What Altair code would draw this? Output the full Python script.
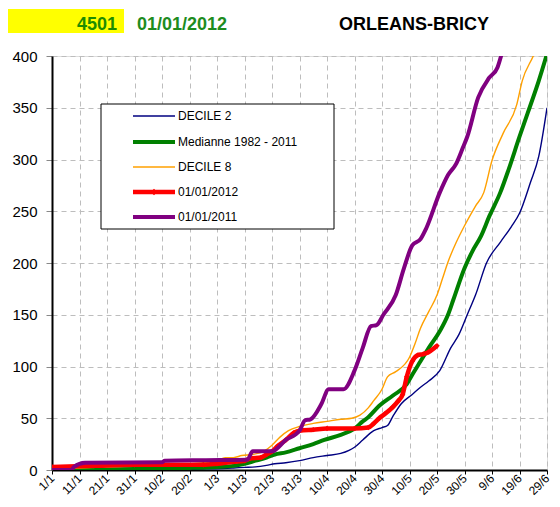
import altair as alt
import pandas as pd

# ---- data (day index from 1 January 2012, cumulative values) ----
tick_days = [0, 10, 20, 30, 40, 50, 60, 70, 80, 90, 100, 110, 120, 130, 140, 150, 160, 170, 180]
tick_labels = ["1/1", "11/1", "21/1", "31/1", "10/2", "20/2", "1/3", "11/3", "21/3", "31/3",
               "10/4", "20/4", "30/4", "10/5", "20/5", "30/5", "9/6", "19/6", "29/6"]

d2_days = [0, 20, 40, 55, 62, 66, 70, 74, 78, 81, 85, 90, 95, 100, 105, 108, 110, 113, 117, 120,
           122, 124, 127, 131, 134, 137, 141, 145, 148, 151, 154, 158, 163, 167, 170, 174, 177, 180]
d2_vals = [0, 0, 0.5, 1, 1.5, 2, 2.5, 3, 4.5, 6, 7, 9, 12, 14, 16, 19, 22, 29, 38, 41,
           43, 52, 64, 73, 80, 86, 96, 118, 131, 150, 169, 200, 220, 235, 248, 278, 303, 350]

med_days = [0, 30, 50, 60, 66, 70, 74, 78, 81, 85, 90, 95, 99, 105, 110, 113, 115, 119, 124, 129,
            131, 134, 137, 141, 144, 146, 150, 153, 156, 159, 163, 166, 170, 173, 177, 180]
med_vals = [0, 1, 2, 3, 4, 6, 9, 12, 15, 17, 21, 25, 29, 34, 40, 47, 51, 62, 72, 83,
            92, 105, 118, 134, 150, 165, 195, 212, 226, 245, 268, 290, 322, 345, 376, 402]

d8_days = [0, 20, 40, 55, 60, 63, 66, 69, 73, 77, 80, 83, 86, 90, 95, 100, 105, 109, 112, 115,
           117, 120, 122, 125, 130, 132, 134, 137, 140, 142, 144, 147, 150, 154, 157, 160, 164,
           169, 171, 175, 178]
d8_vals = [1, 3, 5, 7, 9, 12, 12, 14, 15, 18, 24, 32, 38, 42, 45, 47, 49, 50, 53, 60,
           67, 78, 90, 95, 109, 122, 137, 153, 169, 185, 201, 220, 236, 255, 268, 299, 325,
           353, 376, 400, 420]

y2012_days = [0, 15, 30, 55, 60, 66, 70, 72, 76, 78, 80, 82, 85, 88, 90, 95, 100, 110, 115, 117,
              119, 121, 124, 126, 127.5, 129, 131, 133, 135, 137, 140]
y2012_vals = [3, 4, 5, 5, 6, 8, 9, 11, 12, 15, 18, 23, 29, 36, 38, 39, 40, 40, 41, 45,
              50, 54, 61, 67, 73, 90, 105, 111, 112, 114, 120]

y2011_days = [0, 7, 8, 12, 40, 41, 56, 71, 73, 80, 85, 90, 92, 94, 98, 100.6, 106, 110, 113, 116,
              118, 120.5, 125, 128, 131, 134, 136, 141, 144, 147, 149.5, 151, 155, 159, 162, 163.5, 166]
y2011_vals = [0, 0, 3, 7, 7.5, 9, 9.5, 10, 18, 18, 29, 38, 48, 49, 64, 78, 78, 96, 118, 139,
              140, 150, 169, 195, 217, 223, 233, 268, 285, 296, 312, 322, 360, 379, 389, 402, 430]

series_names = ["DECILE 2", "Medianne 1982 - 2011", "DECILE 8", "01/01/2012", "01/01/2011"]
series_colors = ["#000080", "#008000", "#FFA000", "#FF0000", "#800080"]
series_widths = [1.4, 4, 1.4, 4.5, 4]
series_data = [(d2_days, d2_vals), (med_days, med_vals), (d8_days, d8_vals),
               (y2012_days, y2012_vals), (y2011_days, y2011_vals)]

FONT = "Liberation Sans"
W, H = 495, 414

label_expr = "[" + ",".join("'" + s + "'" for s in tick_labels) + "][round(datum.value/10)]"

x_axis = alt.Axis(values=tick_days, labelExpr=label_expr, title=None,
                  labelAngle=-45, labelAlign="right", labelBaseline="middle",
                  labelFontSize=12, labelFont=FONT, labelColor="black",
                  labelOverlap=False, labelBound=False, labelFlush=False,
                  labelPadding=2, tickSize=4, tickColor="black",
                  domainColor="black", domainWidth=2,
                  grid=True, gridDash=[5, 4], gridColor="#bdbdbd", gridWidth=1)
y_axis = alt.Axis(values=list(range(0, 401, 50)), title=None,
                  labelFontSize=15, labelFont=FONT, labelColor="black",
                  labelOverlap=False, labelFlush=False,
                  labelPadding=9, tickSize=6, tickColor="#888888",
                  domainColor="black", domainWidth=2,
                  grid=True, gridDash=[5, 4], gridColor="#bdbdbd", gridWidth=1)
x_scale = alt.Scale(domain=[0, 180], nice=False, zero=False)
y_scale = alt.Scale(domain=[0, 400], nice=False)

layers = []
for name, color, width, (days, vals) in zip(series_names, series_colors, series_widths, series_data):
    df = pd.DataFrame({"day": days, "value": vals, "series": name})
    base = alt.Chart(df).encode(
        x=alt.X("day:Q", scale=x_scale, axis=x_axis),
        y=alt.Y("value:Q", scale=y_scale, axis=y_axis))
    layers.append(base.mark_line(color=color, strokeWidth=width, clip=True,
                                 interpolate="monotone"))
    if name == "01/01/2012":
        layers.append(base.mark_point(shape="diamond", filled=True, color=color, size=30,
                                      opacity=1, clip=True))

one = pd.DataFrame({"a": [0]})

# legend box
legend_box = alt.Chart(one).mark_rect(fill="white", stroke="black", strokeWidth=1).encode(
    x=alt.value(49), x2=alt.value(282), y=alt.value(48), y2=alt.value(173))
layers.append(legend_box)
row_y = [60, 86, 111, 136, 161]
for name, color, width, ry in zip(series_names, series_colors, series_widths, row_y):
    layers.append(alt.Chart(one).mark_rule(color=color, strokeWidth=width).encode(
        x=alt.value(81), x2=alt.value(123), y=alt.value(ry)))
    if name == "01/01/2012":
        layers.append(alt.Chart(one).mark_point(shape="diamond", filled=True, color=color,
                                                size=40, opacity=1).encode(
            x=alt.value(102), y=alt.value(ry)))
    layers.append(alt.Chart(pd.DataFrame({"t": [name]})).mark_text(
        align="left", baseline="middle", font=FONT, fontSize=12, color="black").encode(
        x=alt.value(126), y=alt.value(ry), text="t:N"))

# header
layers.append(alt.Chart(one).mark_rect(fill="#FFFF00").encode(
    x=alt.value(-44), x2=alt.value(72), y=alt.value(-47), y2=alt.value(-23)))
header = [("4501", 65, "right", "#1E8C00"), ("01/01/2012", 85, "left", "#1E8C1E"),
          ("ORLEANS-BRICY", 287, "left", "black")]
for txt, hx, al, col in header:
    layers.append(alt.Chart(pd.DataFrame({"t": [txt]})).mark_text(
        align=al, baseline="alphabetic", font=FONT, fontSize=18, fontWeight="bold", color=col).encode(
        x=alt.value(hx), y=alt.value(-26), text="t:N"))

chart = alt.layer(*layers).properties(
    width=W, height=H,
    autosize=alt.AutoSizeParams(type="none"),
    padding={"left": 44, "top": 48, "right": 5, "bottom": 29},
).configure_view(stroke="black", strokeWidth=1).configure(background="white"
).configure_axis(labelOverlap=False)

chart.save("out.html", embed_options={"renderer": "svg", "actions": False})
